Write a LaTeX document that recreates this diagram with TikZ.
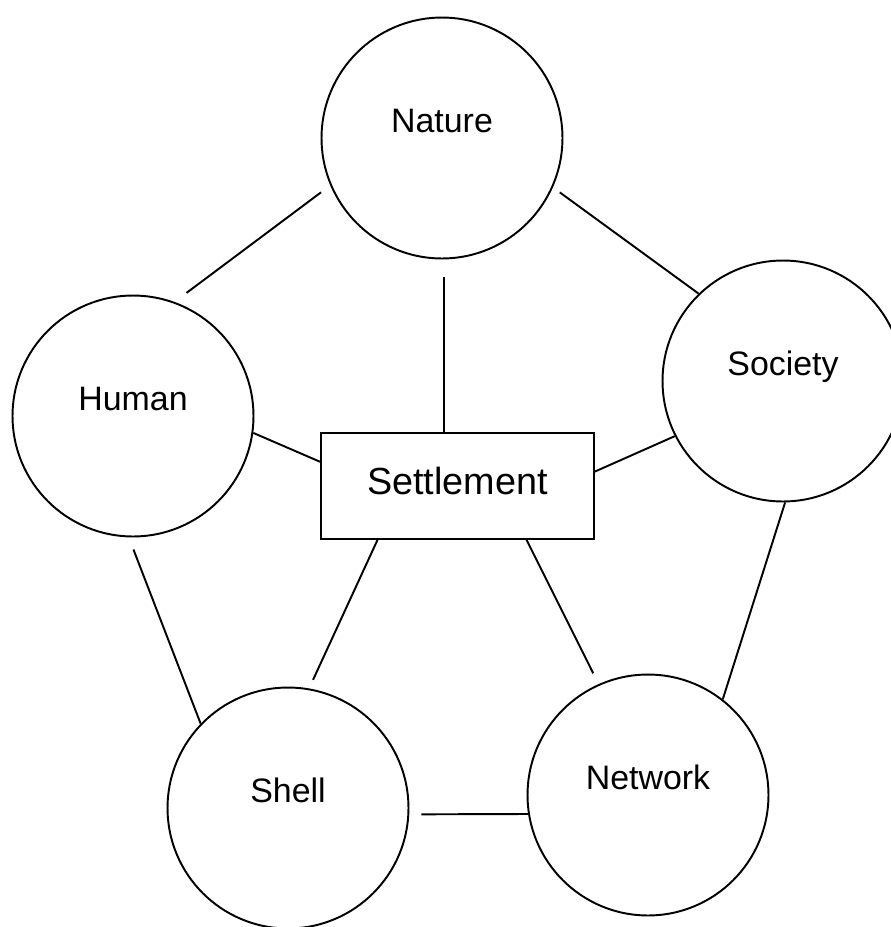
\documentclass[tikz,border=0pt]{standalone}
\usepackage{fontspec}
\setmainfont{Liberation Sans}
\tikzset{
  ring/.style={draw,circle,line width=1.1pt,minimum size=4.82cm,inner sep=0pt,
    font=\fontsize{19.3}{23}\selectfont,text height=0.5cm,text depth=0.72cm},
  hub/.style={draw,rectangle,line width=1.1pt,minimum width=5.46cm,minimum height=2.12cm,
    inner sep=0pt,font=\fontsize{21.5}{26}\selectfont,text height=0.62cm,text depth=0.3cm},
  link/.style={line width=1.1pt}
}
\begin{document}
\begin{tikzpicture}[x=0.02cm,y=-0.02cm]
  \useasboundingbox (0,0) rectangle (891,927);
  \node[ring] (nature) at (442,138) {Nature};
  \node[ring] (human) at (133,416) {Human};
  \node[ring] (society) at (783,381) {Society};
  \node[ring] (shell) at (288,808) {Shell};
  \node[ring] (network) at (648,795) {Network};
  \node[hub] (settlement) at (457.5,486) {Settlement};
  %links
  \draw[link,shorten <=0.23cm,shorten >=0.30cm] (nature.203) -- (human.70);
  \draw[link,shorten <=0.17cm] (nature.336) -- (society.134);
  \draw[link,shorten <=0.36cm] (nature.271) -- (nature.271 |- settlement.north);
  \draw[link] (human.352) -- (settlement.170);
  \draw[link] (society.207) -- (settlement.6);
  \draw[link,shorten <=0.26cm] (human.268) -- (shell.136);
  \draw[link,shorten >=0.19cm] (settlement.214) -- (shell.80);
  \draw[link,shorten >=0.24cm] (settlement.322) -- (network.114);
  \draw[link] (society.271) -- (network.52);
  \draw[link,shorten <=0.24cm] (shell.357) -- (network.189);
\end{tikzpicture}
\end{document}
